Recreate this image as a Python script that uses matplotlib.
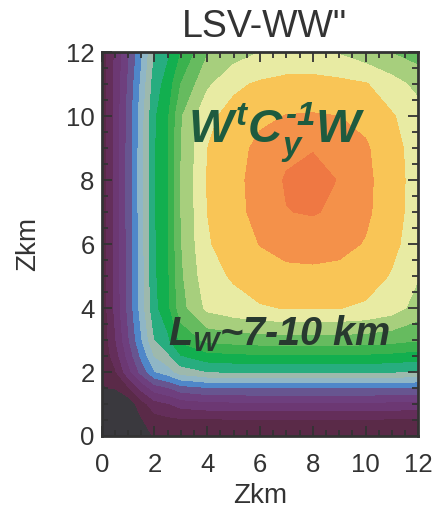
import numpy as np
import matplotlib
matplotlib.use("Agg")
import matplotlib.pyplot as plt
from matplotlib.colors import ListedColormap, BoundaryNorm
from matplotlib.ticker import MultipleLocator

plt.rcParams['font.family'] = ['Liberation Sans', 'DejaVu Sans']
plt.rcParams['mathtext.fontset'] = 'custom'
plt.rcParams['mathtext.rm'] = 'Liberation Sans:bold:italic'
plt.rcParams['mathtext.it'] = 'Liberation Sans:bold:italic'
plt.rcParams['mathtext.bf'] = 'Liberation Sans:bold:italic'

# grid nodes (km)
zkm_x = [0, 0.5, 1, 1.5, 2, 2.5, 3, 4, 5, 6, 7, 8, 9, 10, 11, 12]
zkm_y = [0, 0.5, 1, 1.5, 2, 2.5, 3, 4, 5, 6, 7, 8, 9, 10, 11, 12]

# contour-band value read at each node, one row per zkm_y
row_00 = [-2.5, -2.0, -1.0, 0.5, 1.1, 1.15, 1.2, 1.2, 1.2, 1.2, 1.2, 1.2, 1.2, 1.2, 1.2, 1.2]
row_05 = [-1.5, -2.25, -1.04, 0.9, 1.6, 1.75, 1.85, 1.87, 1.9, 1.9, 1.9, 1.9, 1.9, 1.9, 1.88, 1.8]
row_10 = [-0.5, -1.0, 0.34, 1.56, 2.57, 2.91, 3.42, 3.69, 3.73, 3.77, 3.77, 3.77, 3.77, 3.77, 3.71, 3.65]
row_15 = [0.95, 1.05, 1.85, 3.27, 4.5, 4.9, 5.55, 5.9, 5.95, 6.0, 6.0, 6.0, 6.0, 6.0, 5.93, 5.85]
row_20 = [1.15, 1.83, 3.59, 5.32, 6.91, 7.5, 8.44, 8.96, 9.05, 9.1, 9.13, 9.13, 9.13, 9.1, 9.02, 8.88]
row_25 = [1.15, 2.44, 4.3, 6.2, 8.04, 8.74, 9.92, 10.62, 10.75, 10.83, 10.86, 10.86, 10.86, 10.81, 10.7, 10.52]
row_30 = [1.2, 2.86, 4.83, 6.89, 8.95, 9.76, 11.26, 12.24, 12.43, 12.54, 12.6, 12.6, 12.58, 12.52, 12.35, 12.08]
row_40 = [1.24, 3.19, 5.23, 7.42, 9.71, 10.67, 12.61, 14.23, 14.63, 14.91, 15.04, 15.06, 15.02, 14.86, 14.46, 13.6]
row_50 = [1.3, 3.22, 5.29, 7.49, 9.82, 10.79, 12.82, 14.63, 15.12, 15.52, 15.72, 15.75, 15.69, 15.45, 14.92, 14.05]
row_60 = [1.3, 3.26, 5.32, 7.53, 9.87, 10.87, 12.94, 14.9, 15.49, 16.03, 16.35, 16.42, 16.3, 15.93, 15.23, 14.49]
row_70 = [1.3, 3.26, 5.33, 7.55, 9.9, 10.9, 13.0, 15.0, 15.67, 16.33, 16.97, 17.08, 16.8, 16.2, 15.37, 14.58]
row_80 = [1.3, 3.26, 5.33, 7.55, 9.9, 10.9, 13.0, 15.04, 15.7, 16.4, 17.1, 17.6, 16.92, 16.25, 15.4, 14.6]
row_90 = [1.3, 3.26, 5.33, 7.55, 9.9, 10.89, 12.98, 14.99, 15.62, 16.25, 16.75, 16.9, 16.7, 16.13, 15.34, 14.56]
row_100 = [1.3, 3.24, 5.3, 7.51, 9.85, 10.83, 12.88, 14.78, 15.32, 15.79, 16.03, 16.08, 16.0, 15.7, 15.09, 14.39]
row_110 = [1.25, 3.2, 5.1, 7.2, 9.5, 10.4, 12.0, 13.8, 14.81, 15.13, 15.28, 15.3, 15.25, 15.07, 14.4, 13.7]
row_120 = [1.3, 3.1, 4.8, 6.8, 9.0, 9.8, 11.0, 12.9, 13.5, 14.0, 14.3, 14.3, 13.9, 13.4, 12.95, 12.5]

band_colors = ['#3a393e', '#5a2a48', '#642e5a', '#6c3873', '#6e3f7e', '#675590',
               '#4f87c9', '#8fb6c6', '#9db9ad', '#27ad7f', '#12af4f', '#3ab24e',
               '#66bb5f', '#a7cf7d', '#e8eba3', '#f9c556', '#f4914a', '#ef7843']
band_levels = [-10] + list(range(1, 18)) + [30]

z = np.array([row_00, row_05, row_10, row_15, row_20, row_25, row_30, row_40,
              row_50, row_60, row_70, row_80, row_90, row_100, row_110, row_120])

fig = plt.figure(figsize=(4.37, 5.13), dpi=100)
ax = fig.add_axes([0.2327, 0.1501, 0.7245, 0.7485])

cmap = ListedColormap(band_colors)
norm = BoundaryNorm(band_levels, cmap.N)
ax.contourf(zkm_x, zkm_y, z, levels=band_levels, cmap=cmap, norm=norm)

ax.set_xlim(0, 12)
ax.set_ylim(0, 12)
ax.xaxis.set_major_locator(MultipleLocator(2))
ax.yaxis.set_major_locator(MultipleLocator(2))
ax.xaxis.set_minor_locator(MultipleLocator(0.5))
ax.yaxis.set_minor_locator(MultipleLocator(0.5))
ax.tick_params(which='both', direction='in', top=True, right=True, color='#333333', width=1.3)
ax.tick_params(which='major', length=7, labelsize=18.5, labelcolor='#333333')
ax.tick_params(which='minor', length=4)
ax.tick_params(axis='x', which='major', pad=12.5)
ax.tick_params(axis='y', which='major', pad=5)
for s in ax.spines.values():
    s.set_linewidth(2.0)
    s.set_color('#333333')

ax.set_xlabel('Zkm', fontsize=20, color='#333333', labelpad=4)
ax.set_ylabel('Zkm', fontsize=20, color='#333333', labelpad=18)
fig.text(0.604, 0.928, 'LSV-WW"', fontsize=27, color='#333333', ha='center', va='baseline')

ax.text(3.27, 9.16, r'$W^tC_y^{\text{-}1}W$', fontsize=34, color='#1e5b3f', ha='left', va='baseline')
ax.text(2.51, 2.84, r'$L_W$~7-10 km', fontsize=28.5, color='#28392f', ha='left', va='baseline',
        fontweight='bold', style='italic')

fig.savefig('out.png', dpi=100)
